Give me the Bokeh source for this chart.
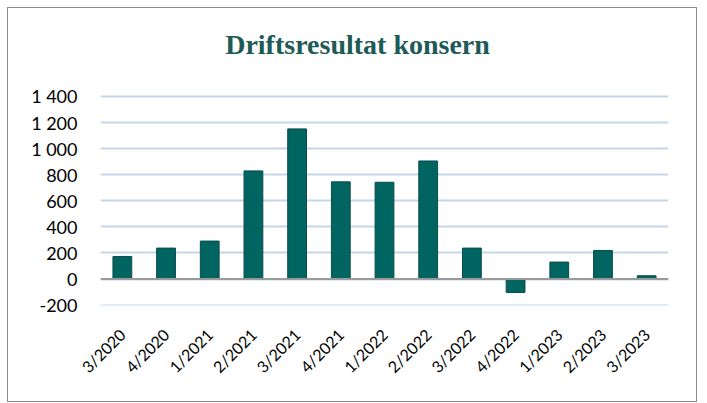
from bokeh.plotting import figure
from bokeh.models import FixedTicker, Span, Label
from bokeh.embed import file_html
from bokeh.resources import INLINE
import math

categories = ["3/2020", "4/2020", "1/2021", "2/2021", "3/2021", "4/2021",
              "1/2022", "2/2022", "3/2022", "4/2022", "1/2023", "2/2023", "3/2023"]
values = [173, 237, 291, 829, 1151, 745, 742, 905, 237, -103, 130, 219, 25]
y_ticks = [-200, 0, 200, 400, 600, 800, 1000, 1200, 1400]
y_tick_labels = ["-200", "0", "200", "400", "600", "800", "1 000", "1 200", "1 400"]
title_text = "Driftsresultat konsern"

# frame extends up to the top edge so the title can live inside it
p = figure(x_range=categories, y_range=(-203, 2074), width=690, height=395,
           output_backend="svg", toolbar_location=None,
           min_border_left=92, min_border_right=30, min_border_top=0,
           min_border_bottom=98)
p.styles = {"border": "1px solid #8c8c8c", "margin": "7px 0 0 7px"}

title = Label(x=257, y=261, x_units="screen", y_units="screen",
              text=title_text, text_align="center", text_baseline="middle",
              text_font="Liberation Serif", text_font_size="28px",
              text_font_style="bold", text_color="#1d5a58")
p.add_layout(title)

p.vbar(x=categories, top=values, bottom=0, width=0.43,
       fill_color="#006461", line_color="#0b4b4a", line_width=1)

p.add_layout(Span(location=0, dimension="width", line_color="#9a9a9a", line_width=2))

p.outline_line_color = None
p.xgrid.grid_line_color = None
p.ygrid.grid_line_color = "#c6d6ea"
p.ygrid.grid_line_width = 2

p.yaxis.ticker = FixedTicker(ticks=y_ticks)
p.yaxis.major_label_overrides = {t: l for t, l in zip(y_ticks, y_tick_labels)}
p.yaxis.axis_line_color = None
p.yaxis.major_tick_line_color = None
p.yaxis.minor_tick_line_color = None
p.yaxis.major_label_standoff = 17
p.yaxis.major_label_text_font = "Lato"
p.yaxis.major_label_text_font_size = "18px"
p.yaxis.major_label_text_color = "#000000"

p.xaxis.axis_line_color = None
p.xaxis.major_tick_line_color = None
p.xaxis.major_label_orientation = math.pi / 4
p.xaxis.major_label_standoff = 20
p.xaxis.major_label_text_font = "Lato"
p.xaxis.major_label_text_font_size = "16px"
p.xaxis.major_label_text_color = "#000000"

open("out.html", "w").write(file_html(p, INLINE))
